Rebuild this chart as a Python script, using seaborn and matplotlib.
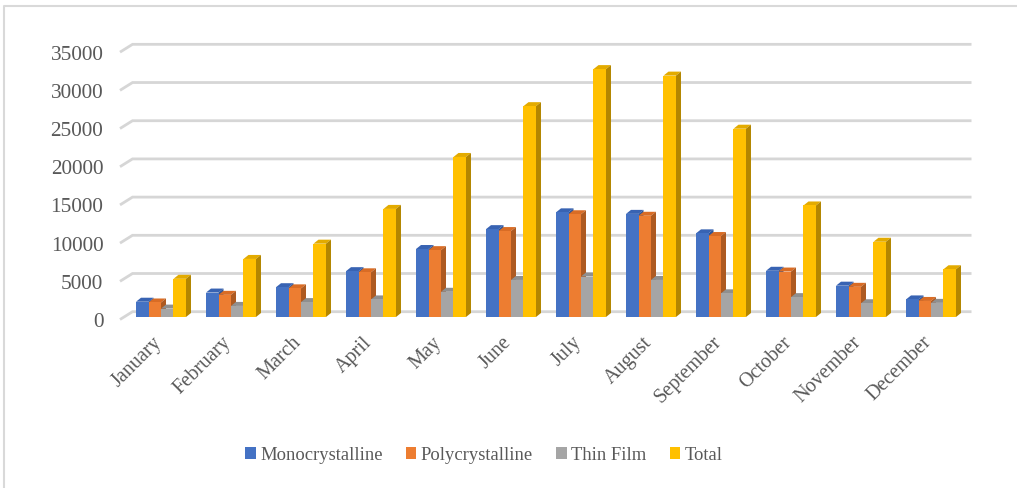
import numpy as np
import pandas as pd
import matplotlib
matplotlib.use("Agg")
import matplotlib.pyplot as plt
import seaborn as sns
from matplotlib.patches import Polygon, Patch
from matplotlib.lines import Line2D
from matplotlib.transforms import ScaledTranslation

# ---- data -------------------------------------------------------------
months = ["January", "February", "March", "April", "May", "June", "July",
          "August", "September", "October", "November", "December"]
series = ["Monocrystalline", "Polycrystalline", "Thin Film", "Total"]
mono = [2000, 3200, 3900, 6000, 8900, 11500, 13700, 13500, 10950, 6050, 4100, 2300]
poly = [1900, 2900, 3750, 5850, 8750, 11250, 13450, 13250, 10600, 5950, 3950, 2100]
thin = [1100, 1450, 1950, 2300, 3300, 4850, 5300, 4850, 3100, 2600, 1800, 1850]
total = [5000, 7600, 9600, 14150, 20950, 27600, 32450, 31600, 24650, 14600, 9850, 6250]
yticks = [0, 5000, 10000, 15000, 20000, 25000, 30000, 35000]

# ---- style ------------------------------------------------------------
front_colors = ["#4472C4", "#ED7D31", "#A5A5A5", "#FFC000"]
top_colors = ["#3863b3", "#d96c25", "#8f8f8f", "#e3ab00"]
side_colors = ["#2f5597", "#ae5a21", "#7a7a7a", "#b38600"]
text_color = "#595959"
grid_color = "#d6d6d6"

sns.set_theme(style="white")
plt.rcParams["font.family"] = ["Liberation Serif", "DejaVu Serif"]

W, H = 1017, 488
fig = plt.figure(figsize=(W / 100, H / 100), dpi=100)
ax = fig.add_axes([120 / W, (H - 317) / H, (975 - 120) / W, (317 - 42) / H])

df = pd.DataFrame({"Month": months, series[0]: mono, series[1]: poly,
                   series[2]: thin, series[3]: total})
long = df.melt(id_vars="Month", var_name="Series", value_name="Value")

sns.barplot(data=long, x="Month", y="Value", hue="Series", hue_order=series,
            palette=front_colors, width=0.714, saturation=1, linewidth=0,
            legend=False, ax=ax)

xmin, xmax = -41 / 70, (975 - 161) / 70
ax.set_xlim(xmin, xmax)
ax.set_ylim(0, 36000)
for s in ax.spines.values():
    s.set_visible(False)
ax.set_xlabel("")
ax.set_ylabel("")
ax.grid(False)

# pixel -> data conversion factors
px_x = 1 / 70.0
px_y = 36000 / 275.0
dx, dy = 5 * px_x, 4 * px_y

# ---- pseudo-3D faces for each bar ---------------------------------------
for k, cont in enumerate(ax.containers):
    base_z = 3 + 0.1 * k
    for rect in cont:
        rect.set_zorder(base_z)
        x0, w, h = rect.get_x(), rect.get_width(), rect.get_height()
        top = Polygon([(x0, h), (x0 + dx, h + dy), (x0 + w + dx, h + dy), (x0 + w, h)],
                      closed=True, facecolor=top_colors[k], edgecolor="none",
                      zorder=base_z - 0.05)
        side = Polygon([(x0 + w, 0), (x0 + w + dx, dy), (x0 + w + dx, h + dy), (x0 + w, h)],
                       closed=True, facecolor=side_colors[k], edgecolor="none",
                       zorder=base_z - 0.05)
        ax.add_patch(top)
        ax.add_patch(side)

# ---- back-wall gridlines with floor bend --------------------------------
back_x0 = xmin + 12.5 * px_x
back_x1 = (971.5 - 161) * px_x
for v in yticks:
    yf = v - 2.5 * px_y
    yb = v + 5.3 * px_y
    ax.add_line(Line2D([xmin, back_x0, back_x1], [yf, yb, yb], color=grid_color,
                       lw=2.0, solid_capstyle="butt", solid_joinstyle="miter",
                       zorder=1, clip_on=False))

# ---- axis labels ---------------------------------------------------------
ax.set_yticks(yticks)
ax.set_yticklabels([str(v) for v in yticks], fontsize=15.3, color=text_color)
ax.tick_params(axis="y", length=0, pad=12)
shift_y = ScaledTranslation(0, -3 / 100, fig.dpi_scale_trans)
for lbl in ax.get_yticklabels():
    lbl.set_transform(lbl.get_transform() + shift_y)

ax.set_xticks(range(len(months)))
ax.set_xticklabels(months, rotation=45, ha="right", va="top",
                   rotation_mode="anchor", fontsize=14.5, color=text_color)
ax.tick_params(axis="x", length=0, pad=13)
shift_x = ScaledTranslation(-9 / 100, 2 / 100, fig.dpi_scale_trans)
for lbl in ax.get_xticklabels():
    lbl.set_transform(lbl.get_transform() + shift_x)

# ---- legend --------------------------------------------------------------
handles = [Patch(facecolor=c, edgecolor="none") for c in front_colors]
fig.legend(handles, series, loc="center", bbox_to_anchor=(484 / W, (H - 455) / H),
           ncol=4, frameon=False, fontsize=13.4, labelcolor=text_color,
           handlelength=0.55, handleheight=0.55, handletextpad=0.25,
           columnspacing=1.25)

# ---- chart frame ---------------------------------------------------------
fig.add_artist(Line2D([4 / W, 4 / W, 1.0], [0.0, (H - 6) / H, (H - 6) / H],
                      transform=fig.transFigure, color="#d9d9d9", lw=1.5))

fig.savefig("out.png", dpi=100, facecolor="white")
